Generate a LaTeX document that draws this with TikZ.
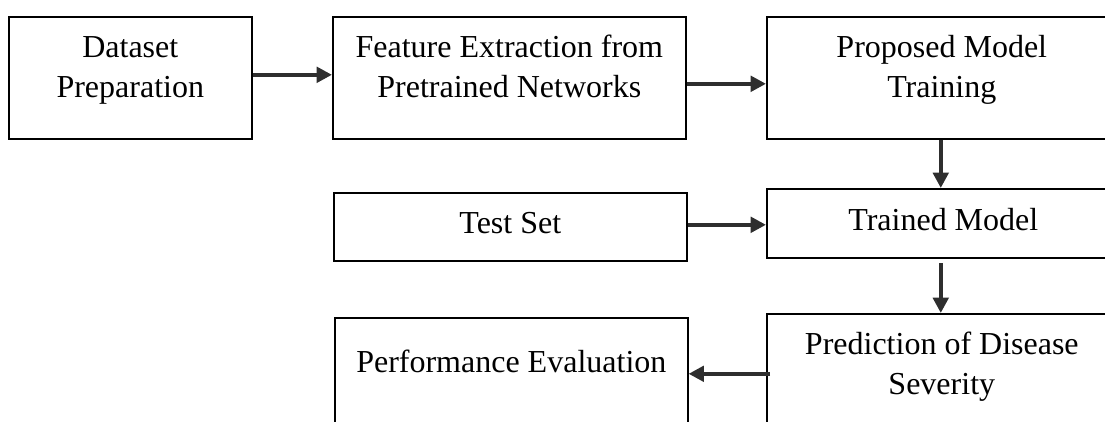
\documentclass[tikz,border=0pt]{standalone}
\usepackage{fontspec}
\setmainfont{Liberation Serif}
\usetikzlibrary{arrows.meta,calc}
\definecolor{arrowgray}{HTML}{2E2E2E}
\begin{document}
\begin{tikzpicture}[x=0.75pt,y=-0.75pt,
  box/.style={draw=black, line width=1.2pt, inner sep=0pt, anchor=north west, minimum width=264.75pt},
  lbl/.style={font=\fontsize{24}{30}\selectfont, align=center, anchor=base, inner sep=0pt},
  arr/.style={draw=arrowgray, line width=3.4pt, -{Triangle[length=11.5pt,width=11.5pt]}}]
\useasboundingbox (0,0) rectangle (1105,421);
\clip (0,0) rectangle (1105,421);
% boxes
\node[box, minimum width=182.25pt, minimum height=91.5pt] (b1) at (8,16) {};
\node[box, minimum height=91.5pt] (b2) at (332,16) {};
\node[box, minimum height=91.5pt] (b3) at (766,16) {};
\node[box, minimum height=51.75pt] (tm) at (766,188) {};
\node[box, minimum height=51pt] (ts) at (333,192) {};
\node[box, minimum height=90pt] (pred) at (766,313) {};
\node[box, minimum height=90pt] (perf) at (334,317) {};
% texts (base anchor = baseline of last line)
\node[lbl] (t1) at ($(b1.north)+(0,81.5)$) {Dataset\\Preparation};
\node[lbl] (t2) at ($(b2.north)+(0,81.5)$) {Feature Extraction from\\Pretrained Networks};
\node[lbl] (t3) at ($(b3.north)+(-1.5,81.5)$) {Proposed Model\\Training};
\node[lbl] (t4) at ($(tm.north)+(0,42)$) {Trained Model};
\node[lbl] (t5) at ($(ts.north)+(0,41)$) {Test Set};
\node[lbl] (t6) at ($(pred.north)+(-1.5,81)$) {Prediction of Disease\\Severity};
\node[lbl] (t7) at ($(perf.north)+(0,55)$) {Performance Evaluation};
% arrows
\draw[arr] ([yshift=2.25pt]b1.east) -- ([yshift=2.25pt]b2.west);
\draw[arr] ([yshift=-4.5pt]b2.east) -- ([yshift=-4.5pt]b2.east -| b3.west);
\draw[arr] ([xshift=-1.9pt]b3.south) -- ([xshift=-1.9pt]tm.north);
\draw[arr] ([yshift=1.5pt]ts.east) -- ([yshift=1.5pt]ts.east -| tm.west);
\draw[arr] ([xshift=-1.9pt,yshift=-3.5pt]tm.south) -- ([xshift=-1.9pt]pred.north);
\draw[arr] ([xshift=3pt]pred.west) -- (pred.west -| perf.east);
\end{tikzpicture}
\end{document}
